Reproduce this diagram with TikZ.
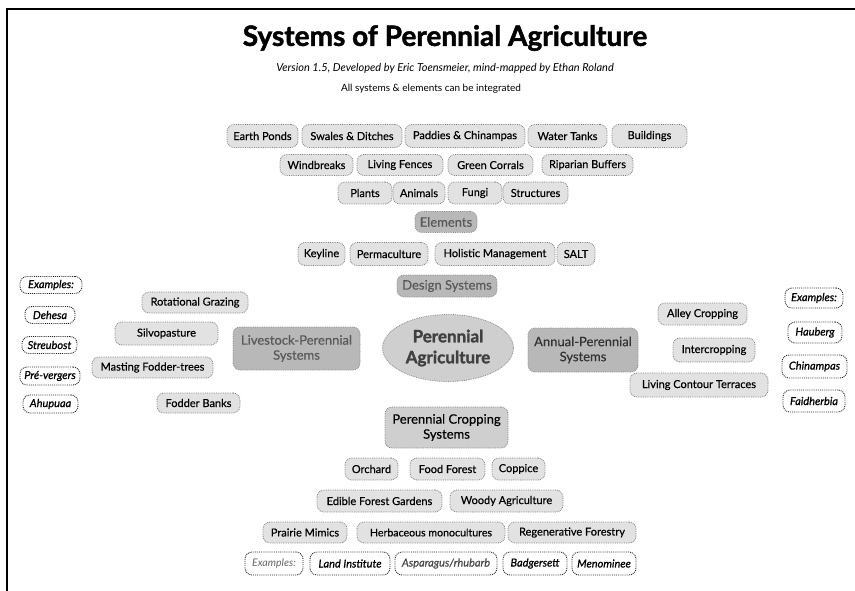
\documentclass[tikz,border=0pt]{standalone}
\usepackage{fontspec}
\setmainfont{Lato}
\newfontfamily\heavyfont[BoldFeatures={FakeBold=1.6}]{Lato}
\newfontfamily\medfont[FakeBold=0.4]{Lato}
\newfontfamily\exfont[FakeBold=0.9]{Lato}
\usetikzlibrary{shapes.geometric}
\definecolor{leaffill}{HTML}{E2E2E2}
\definecolor{hubfill}{HTML}{B8B8B8}
\definecolor{midfill}{HTML}{CFCFCF}
\tikzset{
  box/.style={rounded corners=7pt, inner sep=1pt, align=center, font=\fontsize{11}{13}\selectfont\medfont},
  leaf/.style={box, fill=leaffill, draw=black!50, densely dotted, line width=0.8pt},
  exbox/.style={box, fill=white, draw=black!85, densely dotted, line width=0.9pt, font=\fontsize{11}{13}\selectfont\exfont\itshape},
  hub/.style={box, fill=hubfill, draw=black!45, densely dotted, line width=0.8pt, text=black!65, font=\fontsize{13}{15}\selectfont\medfont},
  sz/.style 2 args={minimum width=#1pt, minimum height=#2pt},
}
\begin{document}
\begin{tikzpicture}[x=1pt,y=-1pt]
\useasboundingbox (0,0) rectangle (855,591);
% frame
\draw[line width=1.5pt] (855,9) -- (7,9) -- (7,591);
% titles
\node[font=\fontsize{28}{32}\selectfont\heavyfont\bfseries] (title) at (445,38) {Systems of Perennial Agriculture};
\node[font=\fontsize{11}{13}\selectfont\itshape] (sub) at (445,68) {Version 1.5, Developed by Eric Toensmeier, mind-mapped by Ethan Roland};
\node[font=\fontsize{10}{12}\selectfont] (integ) at (431,89) {All systems \& elements can be integrated};
% elements rows
\node[leaf, sz={71}{23}] (ep) at (262.5,136) {Earth Ponds};
\node[leaf, sz={100}{23}] (sd) at (352,136) {Swales \& Ditches};
\node[leaf, sz={120}{23}] (pc) at (465,136) {Paddies \& Chinampas};
\node[leaf, sz={79}{23}] (wt) at (567.5,136) {Water Tanks};
\node[leaf, sz={75}{23}] (bu) at (649.5,136) {Buildings};
\node[leaf, sz={73}{21}] (wb) at (316.5,165) {Windbreaks};
\node[leaf, sz={86}{21}] (lf) at (400,165) {Living Fences};
\node[leaf, sz={85}{21}] (gc) at (490.5,165) {Green Corrals};
\node[leaf, sz={91}{21}] (rb) at (587.5,165) {Riparian Buffers};
\node[leaf, sz={54}{22}] (pl) at (365,193) {Plants};
\node[leaf, sz={52}{22}] (an) at (419,193) {Animals};
\node[leaf, sz={54}{22}] (fu) at (475,193) {Fungi};
\node[leaf, sz={65}{22}] (stc) at (535.5,193) {Structures};
\node[hub, sz={62}{21}] (elem) at (446,222) {Elements};
% design systems
\node[leaf, sz={47}{23}] (ky) at (321.5,254) {Keyline};
\node[leaf, sz={78}{23}] (perm) at (389,254) {Permaculture};
\node[leaf, sz={120}{23}] (hol) at (495,254) {Holistic Management};
\node[leaf, sz={38}{23}] (salt) at (576,254) {SALT};
\node[hub, sz={100}{22}] (des) at (447,286) {Design Systems};
% centre
\node[ellipse, fill=midfill, draw=black!45, densely dotted, line width=0.8pt, minimum width=131pt, minimum height=67pt, inner sep=0pt, align=center, font=\fontsize{17}{21}\selectfont\heavyfont\bfseries, text=black!75] (pa) at (448,348) {Perennial\\Agriculture};
\node[hub, sz={127}{43}] (lps) at (296.5,348.5) {Livestock-Perennial\\Systems};
\node[hub, sz={110}{44}, text=black!80] (aps) at (583,350) {Annual-Perennial\\Systems};
\node[leaf, fill=midfill, sz={123}{41}, font=\fontsize{13}{15}\selectfont\medfont] (pcs) at (446.5,427.5) {Perennial Cropping\\Systems};
% left examples
\node[exbox, sz={62}{17}] (lex) at (51,285) {Examples:};
\node[exbox, sz={50}{17}] (deh) at (50,315) {Dehesa};
\node[exbox, sz={55}{17}] (str) at (49.5,345) {Streubost};
\node[exbox, sz={60}{18}] (pre) at (50,376) {Pré-vergers};
\node[exbox, sz={55}{18}] (ahu) at (50.5,404) {Ahupuaa};
% livestock leaves
\node[leaf, sz={106}{21}] (rg) at (195,302.5) {Rotational Grazing};
\node[leaf, sz={103}{23}] (sil) at (166.5,333.5) {Silvopasture};
\node[leaf, sz={121}{21}] (mft) at (152.5,367.5) {Masting Fodder-trees};
\node[leaf, sz={83}{20}] (fb) at (198.5,403) {Fodder Banks};
% right examples
\node[exbox, sz={58}{20}] (rex) at (814,298) {Examples:};
\node[exbox, sz={54}{21}] (hau) at (815,332.5) {Hauberg};
\node[exbox, sz={65}{23}] (chi) at (814.5,366.5) {Chinampas};
\node[exbox, sz={62}{22}] (fai) at (814,401) {Faidherbia};
% annual leaves
\node[leaf, sz={89}{22}] (ac) at (702.5,314) {Alley Cropping};
\node[leaf, sz={82}{24}] (ic) at (714,350) {Intercropping};
\node[leaf, sz={138}{24}] (lct) at (699,385) {Living Contour Terraces};
% cropping leaves
\node[leaf, sz={53}{22}] (orc) at (371.5,469) {Orchard};
\node[leaf, sz={75}{22}] (ff) at (447.5,469) {Food Forest};
\node[leaf, sz={53}{22}] (cop) at (518.5,469) {Coppice};
\node[leaf, sz={125}{22}] (efg) at (379.5,501) {Edible Forest Gardens};
\node[leaf, sz={113}{22}] (wa) at (506.5,501) {Woody Agriculture};
\node[leaf, sz={84}{21}] (prm) at (305,532.5) {Prairie Mimics};
\node[leaf, sz={148}{21}, font=\fontsize{10.6}{12}\selectfont\medfont] (hmc) at (431,532.5) {Herbaceous monocultures};
\node[leaf, sz={128}{21}] (rf) at (572,532.5) {Regenerative Forestry};
% bottom examples
\node[exbox, sz={58}{23}, text=black!60, font=\fontsize{10.5}{12}\selectfont\itshape] (bex) at (274,563.5) {Examples:};
\node[exbox, sz={80}{23}] (li) at (350,563.5) {Land Institute};
\node[exbox, sz={102}{23}, text=black!70] (asp) at (446,563.5) {Asparagus/rhubarb};
\node[exbox, sz={64}{23}] (bad) at (535,563.5) {Badgersett};
\node[exbox, sz={64}{23}] (men) at (604,563.5) {Menominee};
\end{tikzpicture}
\end{document}
